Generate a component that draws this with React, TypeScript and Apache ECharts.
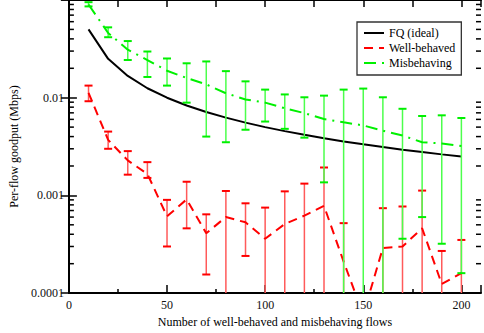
import React, { useEffect, useRef } from "react";
import * as echarts from "echarts";

const flows = [10, 20, 30, 40, 50, 60, 70, 80, 90, 100, 110, 120, 130, 140, 150, 160, 170, 180, 190, 200];

const fqIdeal = [0.05, 0.025, 0.0167, 0.0125, 0.01, 0.00833, 0.00714, 0.00625, 0.00556, 0.005, 0.00455, 0.00417, 0.00385, 0.00357, 0.00333, 0.003125, 0.00294, 0.00278, 0.00263, 0.0025];

const wellBehaved = [0.0112, 0.0037, 0.00228, 0.00166, 0.00061, 0.00091, 0.00041, 0.0006, 0.00053, 0.00036, 0.00051, 0.00062, 0.00078, 0.00021, 0.00006, 0.00029, 0.0003, 0.00046, 0.000124, 0.00016];
const wellBehavedHigh = [0.0133, 0.0045, 0.00284, 0.00219, 0.0009, 0.00138, 0.00064, 0.00111, 0.00083, 0.00075, 0.0011, 0.00132, 0.00193, 0.00052, 0.00009, 0.00074, 0.00077, 0.00112, 0.00027, 0.00035];
const wellBehavedLow = [0.0092, 0.003, 0.00163, 0.00151, 0.0003, 0.00046, 0.000155, 0.00002, 0.00024, 0.00002, 0.00002, 0.00002, 0.00002, 0.00002, 0.00002, 0.00002, 0.00002, 0.00002, 0.00002, 0.00002];

const misbehaving = [0.09, 0.046, 0.031, 0.0243, 0.0189, 0.0159, 0.0137, 0.0111, 0.0096, 0.0089, 0.0078, 0.00695, 0.00605, 0.0056, 0.0052, 0.0046, 0.0041, 0.0035, 0.0034, 0.0032];
const misbehavingHigh = [0.095, 0.0525, 0.038, 0.0297, 0.0252, 0.0225, 0.0235, 0.0187, 0.0147, 0.0121, 0.0108, 0.0101, 0.0105, 0.0121, 0.0124, 0.0101, 0.0077, 0.0065, 0.0066, 0.0062];
const misbehavingLow = [0.086, 0.0416, 0.0243, 0.0163, 0.0133, 0.0089, 0.004, 0.0035, 0.0047, 0.0057, 0.0048, 0.0039, 0.00136, 0.00002, 0.00002, 0.00002, 0.00036, 0.0006, 0.00032, 0.00016];

const yTickLabels = ["0.0001", "0.001", "0.01"];
const xTickLabels = ["0", "50", "100", "150", "200"];
const minorTickValues = [
  0.0002, 0.0003, 0.0004, 0.0005, 0.0006, 0.0007, 0.0008, 0.0009,
  0.002, 0.003, 0.004, 0.005, 0.006, 0.007, 0.008, 0.009,
  0.02, 0.03, 0.04, 0.05, 0.06, 0.07, 0.08, 0.09,
];

const FONT = "Liberation Serif";
const X_MIN = 0;
const X_MAX = 210;
const GREEN = "#00f000";
const RED = "#ff0000";

function errorSeries(name: string, lows: number[], highs: number[], capColor: string, barColor: string, z: number) {
  return {
    type: "custom",
    name,
    xAxisIndex: 0,
    yAxisIndex: 0,
    clip: true,
    z,
    silent: true,
    data: flows.map((f, i) => [f, lows[i], highs[i]]),
    encode: { x: 0, y: [1, 2] },
    renderItem: (_params: any, api: any) => {
      const x = api.value(0);
      const lo = api.coord([x, api.value(1)]);
      const hi = api.coord([x, api.value(2)]);
      const hw = 4;
      return {
        type: "group",
        children: [
          { type: "line", shape: { x1: lo[0], y1: lo[1], x2: hi[0], y2: hi[1] }, style: { stroke: barColor, lineWidth: 1.5 } },
          { type: "line", shape: { x1: hi[0] - hw, y1: hi[1], x2: hi[0] + hw, y2: hi[1] }, style: { stroke: capColor, lineWidth: 2 } },
          { type: "line", shape: { x1: lo[0] - hw, y1: lo[1], x2: lo[0] + hw, y2: lo[1] }, style: { stroke: capColor, lineWidth: 2 } },
        ],
      };
    },
  };
}

export default function App() {
  const ref = useRef<HTMLDivElement>(null);
  useEffect(() => {
    if (!ref.current) return;
    const chart = echarts.init(ref.current, null, { renderer: "svg" });
    const hiddenSymbol = { opacity: 0 };
    const textBase = { fontFamily: FONT, fontSize: 12, fontWeight: "normal", color: "#000" };
    const option: any = {
      animation: false,
      backgroundColor: "#ffffff",
      textStyle: { fontFamily: FONT },
      grid: { left: 59, top: 0, width: 427, height: 297, containLabel: false },
      legend: {
        data: [
          { name: "FQ (ideal)", itemStyle: hiddenSymbol },
          { name: "Well-behaved", itemStyle: hiddenSymbol },
          { name: "Misbehaving", itemStyle: hiddenSymbol },
        ],
        orient: "vertical",
        left: 357,
        top: 22,
        padding: [5, 6, 6, 6],
        itemGap: 3,
        itemWidth: 20,
        itemHeight: 10,
        borderColor: "#333",
        borderWidth: 1.3,
        backgroundColor: "#ffffff",
        textStyle: { ...textBase },
        selectedMode: false,
      },
      xAxis: [
        {
          type: "value",
          position: "bottom",
          min: X_MIN,
          max: X_MAX,
          interval: 50,
          name: "Number of well-behaved and misbehaving flows",
          nameLocation: "middle",
          nameGap: 19,
          nameTextStyle: { ...textBase },
          axisLine: { show: true, lineStyle: { color: "#000", width: 2 } },
          axisTick: { show: true, inside: true, length: 8, lineStyle: { color: "#000", width: 1.5 } },
          minorTick: { show: true, splitNumber: 2, length: 4, lineStyle: { color: "#000", width: 1.5 } },
          splitLine: { show: false },
          axisLabel: {
            ...textBase,
            color: "#111",
            margin: 6,
            formatter: (v: number) => xTickLabels.find((l) => Number(l) === v) ?? "",
          },
        },
        {
          type: "value",
          position: "top",
          min: X_MIN,
          max: X_MAX,
          interval: 25,
          axisLine: { show: true, lineStyle: { color: "#000", width: 2 } },
          axisTick: { show: true, inside: true, length: 7, lineStyle: { color: "#000", width: 1.5 } },
          splitLine: { show: false },
          axisLabel: { show: false },
        },
      ],
      yAxis: [
        {
          type: "log",
          logBase: 10,
          position: "left",
          min: 0.0001,
          max: 0.1,
          name: "Per-flow goodput (Mbps)",
          nameLocation: "middle",
          nameGap: 42,
          nameTextStyle: { ...textBase },
          axisLine: { show: true, lineStyle: { color: "#000", width: 2 } },
          axisTick: { show: true, inside: true, length: 8, lineStyle: { color: "#000", width: 1.5 } },
          splitLine: { show: false },
          axisLabel: {
            ...textBase,
            color: "#111",
            margin: 5,
            formatter: (v: number) =>
              yTickLabels.find((l) => Math.abs(Math.log10(Number(l)) - Math.log10(v)) < 1e-6) ?? "",
          },
        },
        {
          type: "log",
          logBase: 10,
          position: "right",
          min: 0.0001,
          max: 0.1,
          axisLine: { show: true, lineStyle: { color: "#000", width: 2 } },
          axisTick: { show: true, inside: true, length: 8, lineStyle: { color: "#000", width: 1.5 } },
          splitLine: { show: false },
          axisLabel: { show: false },
        },
      ],
      series: [
        {
          type: "line",
          name: "FQ (ideal)",
          data: flows.map((f, i) => [f, fqIdeal[i]]),
          symbol: "none",
          lineStyle: { color: "#000", width: 2, type: "solid" },
          itemStyle: { color: "#000" },
          z: 3,
        },
        errorSeries("wb-err", wellBehavedLow, wellBehavedHigh, RED, "#ff5a5a", 4),
        {
          type: "line",
          name: "Well-behaved",
          data: flows.map((f, i) => [f, wellBehaved[i]]),
          symbol: "none",
          lineStyle: { color: RED, width: 2, type: [9, 6] },
          itemStyle: { color: RED },
          z: 5,
        },
        errorSeries("mb-err", misbehavingLow, misbehavingHigh, GREEN, "#4cff4c", 6),
        {
          type: "line",
          name: "Misbehaving",
          data: flows.map((f, i) => [f, misbehaving[i]]),
          symbol: "none",
          lineStyle: { color: GREEN, width: 2, type: [12, 6, 2, 6] },
          itemStyle: { color: GREEN },
          z: 7,
        },
        {
          type: "custom",
          name: "minor-ticks",
          silent: true,
          clip: false,
          z: 10,
          data: minorTickValues.map((v) => [X_MIN, v]),
          encode: { x: 0, y: 1 },
          renderItem: (_params: any, api: any) => {
            const v = api.value(1);
            const l = api.coord([X_MIN, v]);
            const r = api.coord([X_MAX, v]);
            return {
              type: "group",
              children: [
                { type: "line", shape: { x1: l[0], y1: l[1], x2: l[0] + 5, y2: l[1] }, style: { stroke: "#000", lineWidth: 1.5 } },
                { type: "line", shape: { x1: r[0] - 5, y1: r[1], x2: r[0], y2: r[1] }, style: { stroke: "#000", lineWidth: 1.5 } },
              ],
            };
          },
        },
      ],
    };
    chart.setOption(option);
    return () => chart.dispose();
  }, []);
  return (
    <div
      ref={ref}
      style={{ position: "fixed", left: 0, top: 0, width: 484, height: 333, background: "#fff" }}
    />
  );
}
